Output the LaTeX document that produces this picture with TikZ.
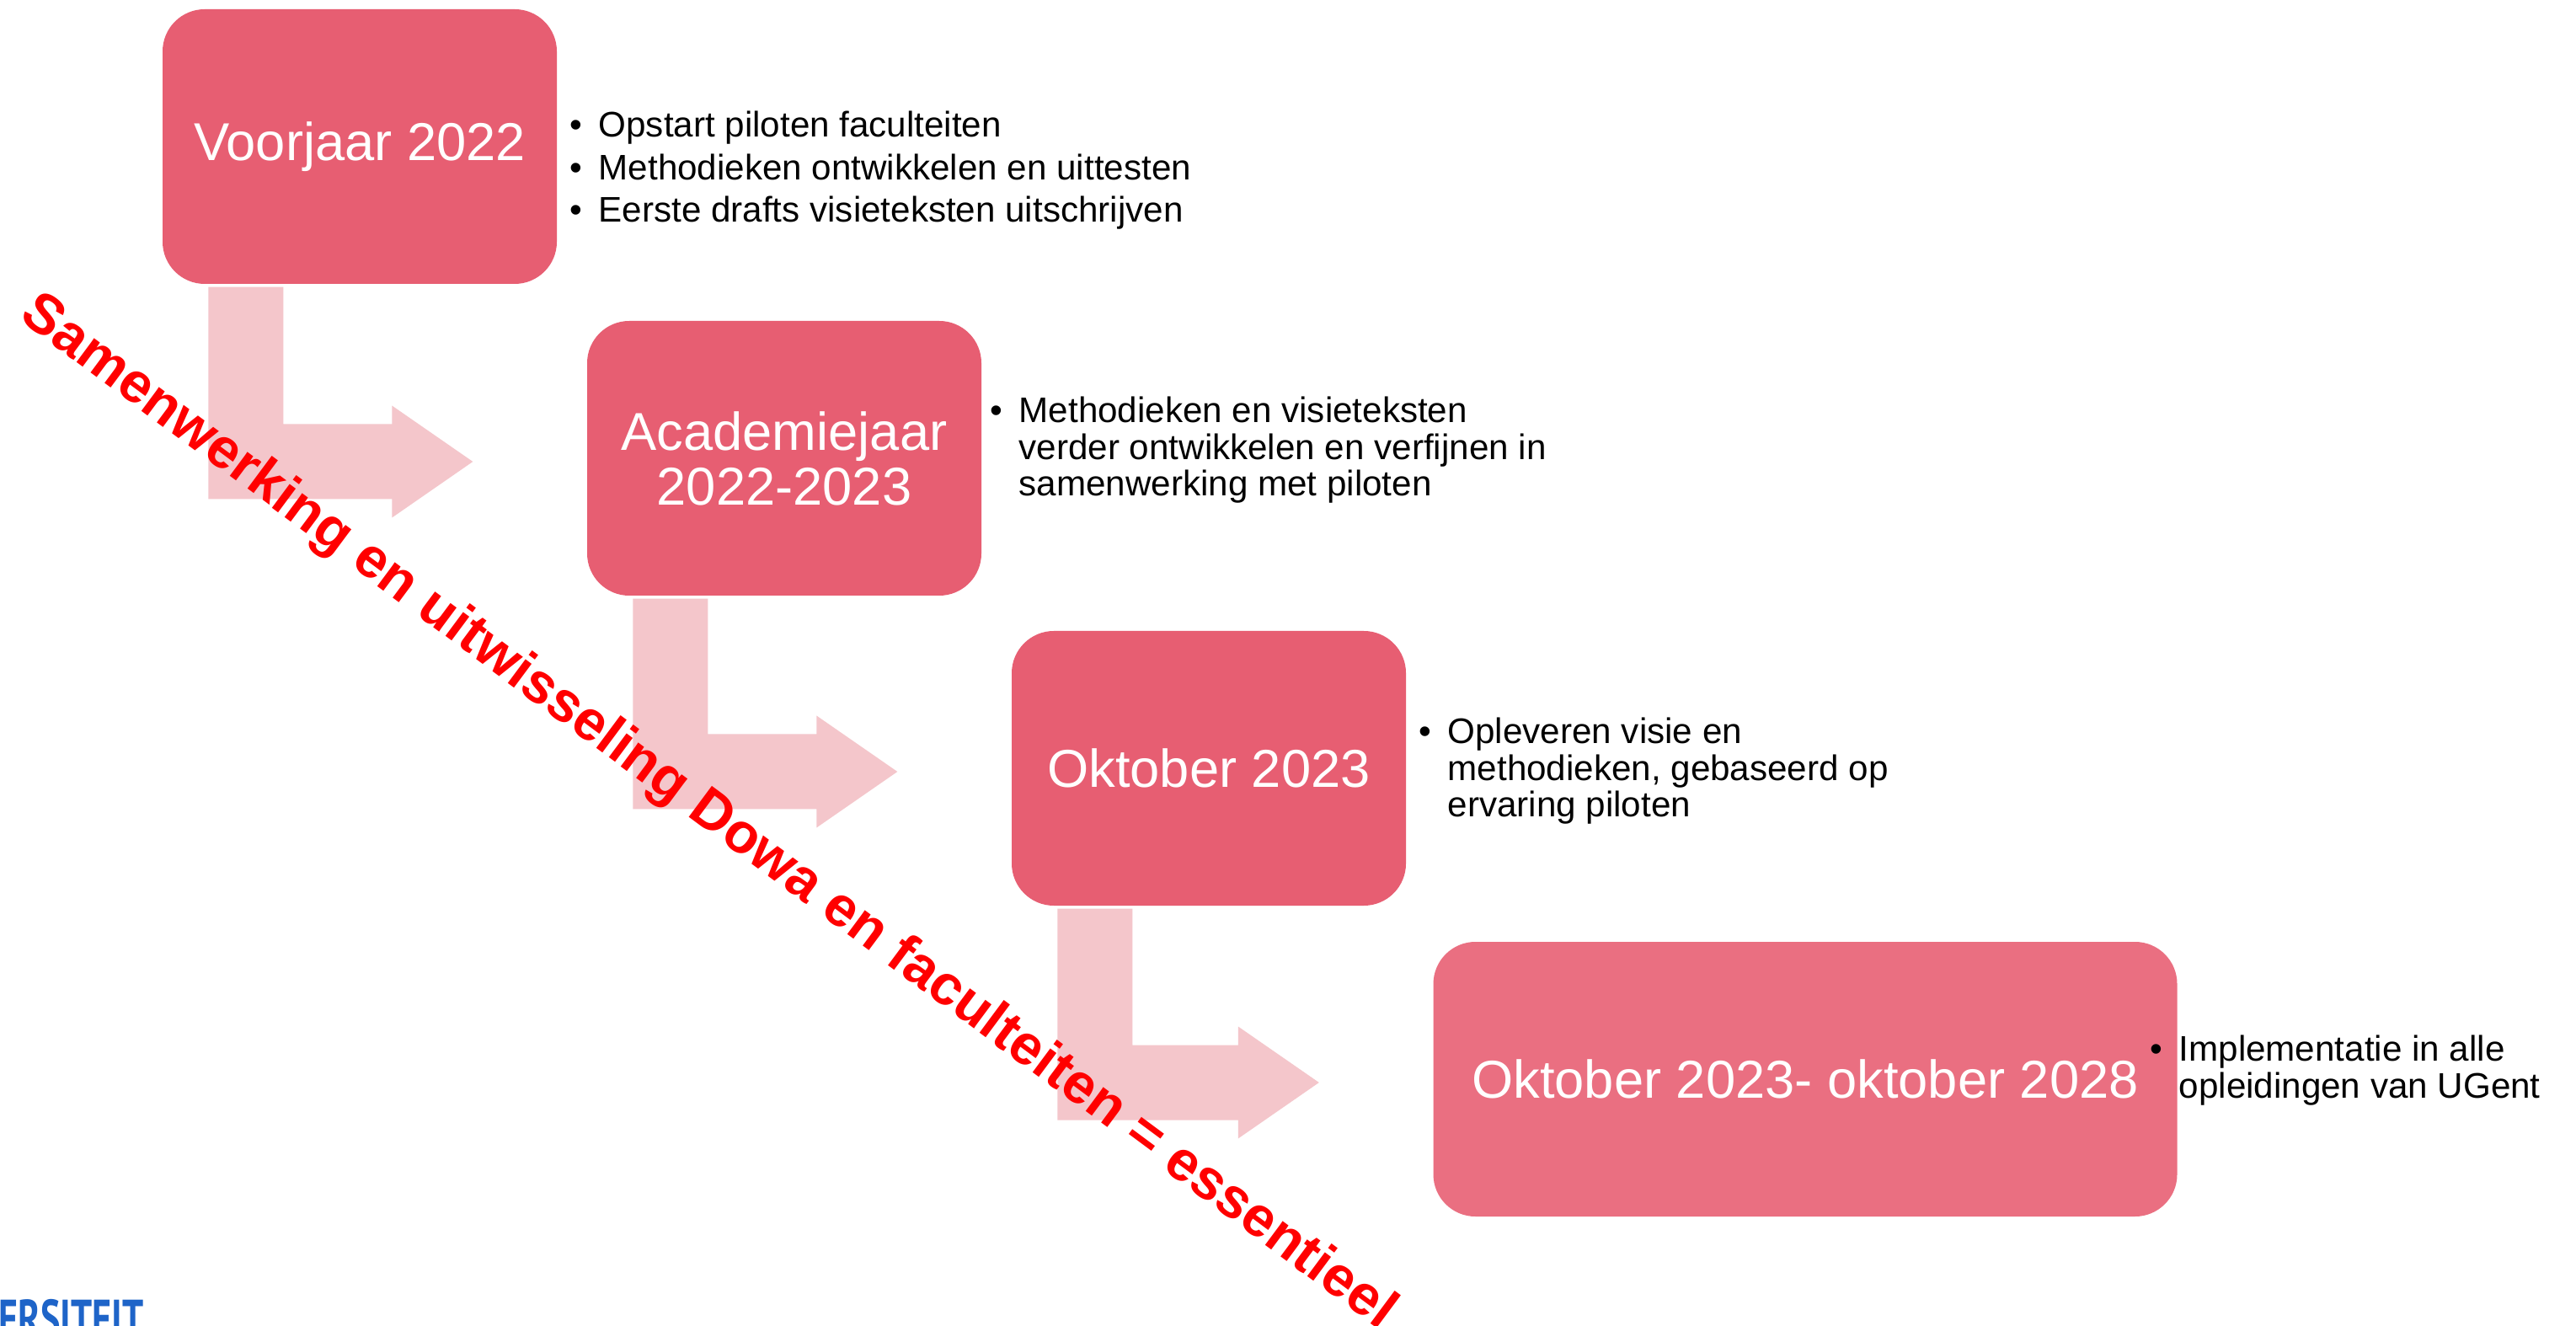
\documentclass[tikz,border=0pt]{standalone}
\usepackage{fontspec}
\setmainfont{Liberation Sans}
\newfontfamily\logofont{PT Sans}
\usetikzlibrary{positioning,calc}

\definecolor{boxred}{RGB}{231,94,114}
\definecolor{boxlight}{RGB}{234,111,129}
\definecolor{arrowpink}{RGB}{244,198,203}
\definecolor{ugentblue}{RGB}{30,100,200}

\newcommand{\bul}{\makebox[0.34cm][l]{\textbullet}}
\newcommand{\ind}{\hspace*{0.34cm}}

\begin{document}
\begin{tikzpicture}[
	period/.style={fill=boxred, rounded corners=0.5cm, minimum width=4.68cm, minimum height=3.26cm, inner sep=0, text=white, align=center, font=\fontsize{18}{18.5}\selectfont},
	bullets/.style={anchor=base west, inner sep=0, align=left, font=\fontsize{12}{12.5}\selectfont}]
		\useasboundingbox (0,0) rectangle (30.58,15.73);
		\fill[white] (0,0) rectangle (30.58,15.73);
		
		% timeline boxes
		\node[period] (v22) at (4.27,13.99) {Voorjaar 2022};
		\node[period] (aj) at (9.31,10.29) {Academiejaar\\2022-2023};
		\node[period] (okt23) at (14.35,6.61) {Oktober 2023};
		\node[period, fill=boxlight, minimum width=8.83cm] (impl) at (21.43,2.92) {Oktober 2023- oktober 2028};
		
		% bent arrows between the boxes
		\foreach \a/\b in {v22/aj, aj/okt23, okt23/impl} {
			\coordinate (s) at ($(\a.south west)+(0.55,-0.03)$);
			\coordinate (t) at ($(\b.west)+(-1.35,-0.04)$);
			\fill[arrowpink] let \p1=(s), \p2=(t) in
				(\x1,\y1) -- (\x1+0.89cm,\y1) -- (\x1+0.89cm,\y2+0.445cm) -- (\x2-0.96cm,\y2+0.445cm)
				-- (\x2-0.96cm,\y2+0.665cm) -- (\x2,\y2) -- (\x2-0.96cm,\y2-0.665cm)
				-- (\x2-0.96cm,\y2-0.445cm) -- (\x1,\y2-0.445cm) -- cycle;
		}
		
		% bullet texts (base = last line)
		\node[bullets] (v22txt) at (6.76,13.09) {\bul Opstart piloten faculteiten\\[2pt]
			\bul Methodieken ontwikkelen en uittesten\\[2pt]
			\bul Eerste drafts visieteksten uitschrijven};
		\node[bullets] (ajtxt) at (11.75,9.84) {\bul Methodieken en visieteksten\\
			\ind verder ontwikkelen en verfijnen in\\
			\ind samenwerking met piloten};
		\node[bullets] (okt23txt) at (16.84,6.03) {\bul Opleveren visie en\\
			\ind methodieken, gebaseerd op\\
			\ind ervaring piloten};
		\node[bullets] (impltxt) at (25.52,2.70) {\bul Implementatie in alle\\
			\ind opleidingen van UGent};
		
		% slanted remark
		\node[rotate=-36.6, anchor=base, inner sep=0, text=red, font=\bfseries\fontsize{19}{19}\selectfont] (motto) at (8.30,5.94) {Samenwerking en uitwisseling Dowa en faculteiten = essentieel};
		
		% logo remnant
		\node[anchor=north west, inner sep=0, text=ugentblue, xscale=0.7, font=\logofont\bfseries\fontsize{18}{18}\selectfont] (logo) at (-0.02,0.31) {ERSITEIT};
\end{tikzpicture}
\end{document}
